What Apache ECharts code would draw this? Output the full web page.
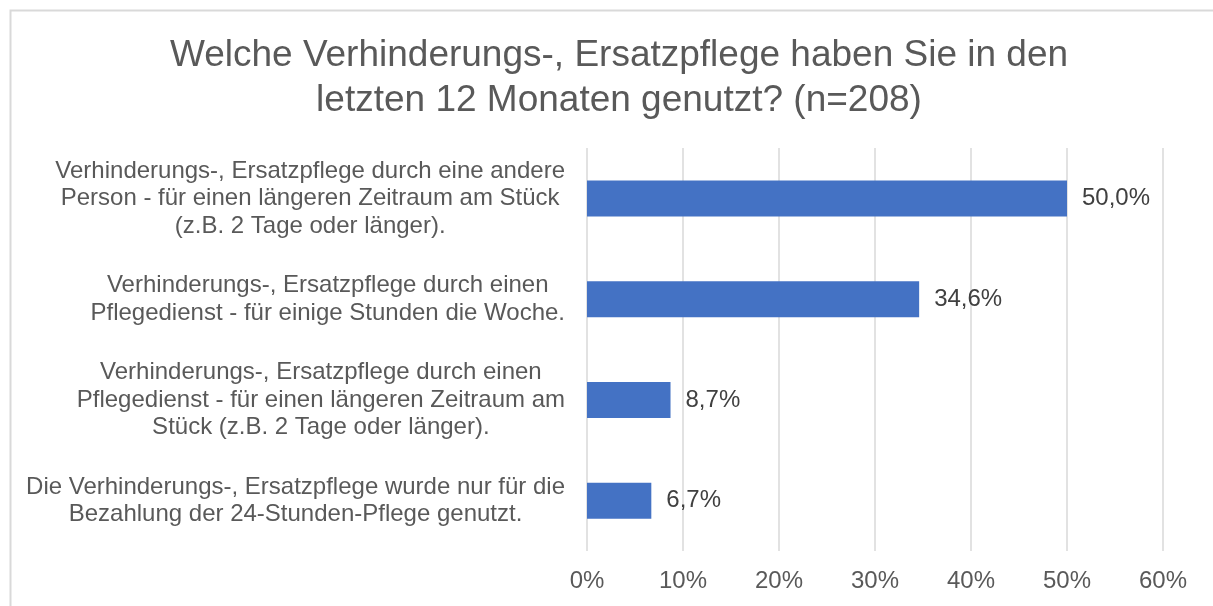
<!DOCTYPE html>
<html>
<head>
<meta charset="utf-8">
<script src="https://cdn.jsdelivr.net/npm/echarts@6/dist/echarts.min.js"></script>
<style>
  html, body { margin: 0; padding: 0; background: #ffffff; }
  #chart { width: 1213px; height: 606px; }
</style>
</head>
<body>
<div id="chart"></div>
<script>
const titleText = 'Welche Verhinderungs-, Ersatzpflege haben Sie in den\nletzten 12 Monaten genutzt? (n=208)';

const categories = [
  'Verhinderungs-, Ersatzpflege durch eine andere\nPerson - für einen längeren Zeitraum am Stück\n(z.B. 2 Tage oder länger).',
  'Verhinderungs-, Ersatzpflege durch einen\nPflegedienst - für einige Stunden die Woche.',
  'Verhinderungs-, Ersatzpflege durch einen\nPflegedienst - für einen längeren Zeitraum am\nStück (z.B. 2 Tage oder länger).',
  'Die Verhinderungs-, Ersatzpflege wurde nur für die\nBezahlung der 24-Stunden-Pflege genutzt.'
];

const shares = [50.0, 34.6, 8.7, 6.7];

const axisMin = 0;
const axisMax = 60;
const axisStep = 10;

const fontFamily = 'Liberation Sans, Arial, Helvetica, sans-serif';

const chart = echarts.init(document.getElementById('chart'), null, { renderer: 'canvas' });

chart.setOption({
  backgroundColor: '#ffffff',
  animation: false,
  graphic: [{
    type: 'rect',
    left: 8, top: 8,
    shape: { width: 1220, height: 620 },
    style: { fill: 'none', stroke: '#d9d9d9', lineWidth: 2 },
    silent: true
  }],
  title: {
    text: titleText,
    left: 614,
    textAlign: 'center',
    top: 28,
    textStyle: {
      fontFamily: fontFamily,
      fontSize: 37,
      fontWeight: 'normal',
      color: '#595959',
      lineHeight: 45,
      align: 'center'
    }
  },
  grid: {
    left: 587,
    right: 50,
    top: 148,
    bottom: 55,
    containLabel: false
  },
  xAxis: {
    type: 'value',
    min: axisMin,
    max: axisMax,
    interval: axisStep,
    axisLine: { show: false },
    axisTick: { show: false },
    splitLine: { show: true, lineStyle: { color: '#d9d9d9', width: 1.5 } },
    axisLabel: {
      margin: 18,
      fontFamily: fontFamily,
      fontSize: 24,
      color: '#595959',
      formatter: v => v + '%'
    }
  },
  yAxis: {
    type: 'category',
    data: categories,
    inverse: true,
    axisLine: { show: false },
    axisTick: { show: false },
    splitLine: { show: false },
    axisLabel: {
      margin: 22,
      align: 'right',
      formatter: v => v.split('\n').map(line => '{c|' + line + '}').join('\n'),
      rich: {
        c: {
          align: 'center',
          fontFamily: fontFamily,
          fontSize: 24,
          lineHeight: 27.5,
          color: '#595959'
        }
      }
    }
  },
  series: [{
    type: 'bar',
    data: shares,
    barWidth: 36,
    itemStyle: { color: '#4472c4' },
    label: {
      show: true,
      position: 'right',
      distance: 15,
      fontFamily: fontFamily,
      fontSize: 24,
      color: '#404040',
      formatter: p => p.value.toFixed(1).replace('.', ',') + '%'
    }
  }]
});
</script>
</body>
</html>
